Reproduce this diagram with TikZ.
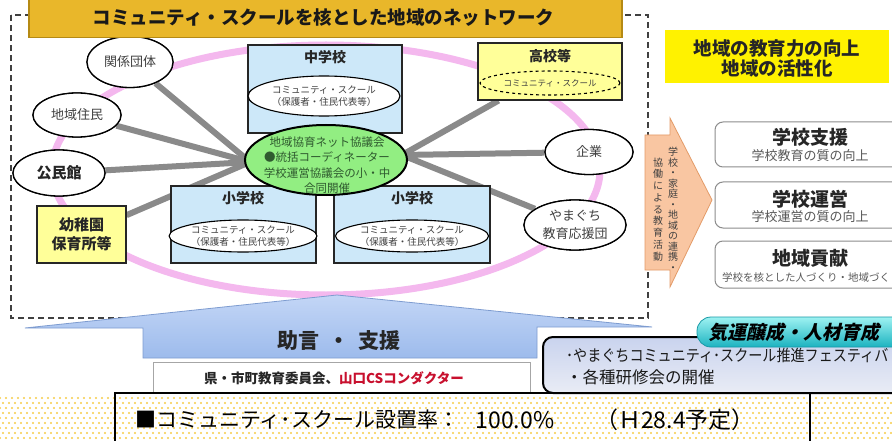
\documentclass[tikz,border=0pt]{standalone}
\usepackage{fontspec}
\setmainfont{Noto Sans CJK JP}
\newfontfamily\jpsl[FakeSlant=0.22]{Noto Sans CJK JP}
\usetikzlibrary{shapes.geometric}
\definecolor{gold}{HTML}{E9B72A}
\definecolor{golddark}{HTML}{B58A14}
\definecolor{pinkring}{HTML}{F4B8EE}
\definecolor{linegray}{HTML}{8A8A8A}
\definecolor{lblue}{HTML}{CDE8F9}
\definecolor{lyellow}{HTML}{FFFF99}
\definecolor{lgreen}{HTML}{92EE82}
\definecolor{greentxt}{HTML}{2F5A2F}
\definecolor{txtgray}{HTML}{404040}
\definecolor{boxgray}{HTML}{8C8C8C}
\definecolor{csred}{HTML}{C8102E}
\definecolor{dotc}{HTML}{F6CC48}
\definecolor{peach}{HTML}{F9C6A2}
\definecolor{peachdark}{HTML}{E39B68}
\definecolor{arrowtop}{HTML}{C3D6F6}
\definecolor{arrowbot}{HTML}{9DBBEC}
\definecolor{arrowline}{HTML}{7E9CD0}
\definecolor{festtop}{HTML}{C9D3EE}
\definecolor{festbot}{HTML}{E9ECF5}
\definecolor{pilltop}{HTML}{9EF2F2}
\definecolor{pillbot}{HTML}{1CB3C0}
\definecolor{pillline}{HTML}{1899A6}
\begin{document}
\begin{tikzpicture}[x=1pt,y=-1pt,
  conn/.style={draw=linegray, line width=6},
  oval/.style={ellipse, draw=black, line width=1.3, fill=white, inner sep=0, align=center, text=txtgray},
  schoolbox/.style={rectangle, draw=black!85, line width=1.1, fill=lblue, inner sep=0},
  ybox/.style={rectangle, draw=black!85, line width=1.1, fill=lyellow, inner sep=0, align=center},
  csell/.style={ellipse, draw=black, line width=1.1, fill=white, inner sep=0, align=center, text=txtgray, font=\fontsize{9.5}{12.5}\selectfont},
  heading/.style={font=\bfseries\fontsize{14}{14}\selectfont, text=black!85, inner sep=0},
  resbox/.style={rectangle, rounded corners=8, draw=boxgray, line width=1, fill=white, minimum width=200, inner sep=0},
  restitle/.style={font=\bfseries\fontsize{19}{19}\selectfont, text=black!85, inner sep=0},
  ressub/.style={font=\fontsize{13}{13}\selectfont, text=black!65, inner sep=0},
  vtext/.style={align=center, inner sep=0, text=txtgray, anchor=north},
  dashframe/.style={draw=black!75, line width=1.4, dash pattern=on 6pt off 4pt},
]
\useasboundingbox (0,0) rectangle (892,441);
\clip (0,0) rectangle (892,441);
\fill[white] (0,0) rectangle (892,441);

% dotted strip
\foreach \r in {0,...,8}{
  \pgfmathsetmacro{\off}{mod(\r,2)*3}
  \foreach \c in {0,...,149}{
    \fill[dotc] (\c*6+\off, 398+\r*5) circle[radius=1.15];
  }
}

% dashed frame and pink ring
\draw[dashframe] (11,15) rectangle (648,318);
\draw[pinkring, line width=7] (326,170) ellipse [x radius=274, y radius=125];

% hubs
\coordinate (hubL) at (250,162);
\coordinate (hubR) at (402,155);

% satellites
\node[oval, minimum width=86, minimum height=51, font=\fontsize{13}{13}\selectfont] (kankei) at (130,62) {関係団体};
\node[oval, minimum width=88, minimum height=44, font=\fontsize{13}{13}\selectfont] (juumin) at (77,115) {地域住民};
\node[oval, minimum width=92, minimum height=46, font=\bfseries\fontsize{15}{15}\selectfont, text=black!85] (kouminkan) at (59,173) {公民館};
\node[ybox, minimum width=89, minimum height=57, font=\bfseries\fontsize{15}{19}\selectfont, text=black!85] (youchien) at (81.5,234.5) {幼稚園\\保育所等};
\node[ybox, minimum width=144, minimum height=57] (koukou) at (550,71.5) {};
\node[oval, minimum width=88, minimum height=45, font=\fontsize{13}{13}\selectfont] (kigyou) at (589,152) {企業};
\node[oval, minimum width=102, minimum height=50, font=\fontsize{13}{18}\selectfont] (yamaguchi) at (575,225) {やまぐち\\教育応援団};

% connectors
\draw[conn] (hubL) -- (kankei);
\draw[conn] (hubL) -- (juumin);
\draw[conn] (hubL) -- (kouminkan);
\draw[conn] (hubL) -- (youchien);
\draw[conn] (hubR) -- (koukou);
\draw[conn] (hubR) -- (kigyou);
\draw[conn] (hubR) -- (yamaguchi);

% redraw satellites on top of connectors
\node[oval, minimum width=86, minimum height=51, font=\fontsize{13}{13}\selectfont] (kankeiT) at (kankei) {関係団体};
\node[oval, minimum width=88, minimum height=44, font=\fontsize{13}{13}\selectfont] (juuminT) at (juumin) {地域住民};
\node[oval, minimum width=92, minimum height=46, font=\bfseries\fontsize{15}{15}\selectfont, text=black!85] (kouminkanT) at (kouminkan) {公民館};
\node[ybox, minimum width=89, minimum height=57, font=\bfseries\fontsize{15}{19}\selectfont, text=black!85] (youchienT) at (youchien) {幼稚園\\保育所等};
\node[ybox, minimum width=144, minimum height=57] (koukouT) at (koukou) {};
\node[heading] (koukouH) at (550,56) {高校等};
\node[ellipse, draw=black, dashed, line width=1.1, fill=lyellow, inner sep=0, minimum width=140, minimum height=24, font=\fontsize{8.5}{8.5}\selectfont, text=txtgray] (koukouCS) at (550,83) {コミュニティ・スクール};
\node[oval, minimum width=88, minimum height=45, font=\fontsize{13}{13}\selectfont] (kigyouT) at (kigyou) {企業};
\node[oval, minimum width=102, minimum height=50, font=\fontsize{13}{18}\selectfont] (yamaguchiT) at (yamaguchi) {やまぐち\\教育応援団};

% schools
\node[schoolbox, minimum width=154, minimum height=88] (chu) at (325,89) {};
\node[heading] (chuH) at (325,57) {中学校};
\node[csell, minimum width=152, minimum height=40] (chuCS) at (324,96) {コミュニティ・スクール\\（保護者・住民代表等）};
\node[schoolbox, minimum width=145, minimum height=77] (shoL) at (243.5,224.5) {};
\node[heading] (shoLH) at (243,198) {小学校};
\node[csell, minimum width=144, minimum height=32] (shoLCS) at (243,236) {コミュニティ・スクール\\（保護者・住民代表等）};
\node[schoolbox, minimum width=156, minimum height=77] (shoR) at (412,224.5) {};
\node[heading] (shoRH) at (412,198) {小学校};
\node[csell, minimum width=153, minimum height=32] (shoRCS) at (412,236) {コミュニティ・スクール\\（保護者・住民代表等）};

% central council
\node[ellipse, draw=black, line width=2, fill=lgreen, minimum width=162, minimum height=70, inner sep=0] (hub) at (326,160) {};
\node[align=center, inner sep=0, text=greentxt, font=\fontsize{11.5}{15.3}\selectfont] (hubtxt) at (327,165) {地域協育ネット協議会\\●統括コーディネーター\\学校運営協議会の小・中\\合同開催};

% title
\node[rectangle, fill=gold, draw=golddark, line width=1.2, minimum width=593, minimum height=40, inner sep=0] (titlebox) at (325.5,17.5) {};
\node[inner sep=0, font=\bfseries\fontsize{18.5}{18.5}\selectfont, text=black!90] (title) at (323.5,18) {コミュニティ・スクールを核とした地域のネットワーク};

% right panel
\node[rectangle, fill=yellow, minimum width=224, minimum height=53, inner sep=0] (goalbox) at (777,56.5) {};
\node[align=center, inner sep=0, font=\bfseries\fontsize{18.5}{20}\selectfont, text=black!85] (goal) at (777,58) {地域の教育力の向上\\地域の活性化};

\node[resbox, minimum height=45] (r1) at (815,144.5) {};
\node[restitle] (r1t) at (810,137) {学校支援};
\node[ressub] (r1s) at (810,156) {学校教育の質の向上};
\node[resbox, minimum height=46] (r2) at (815,205) {};
\node[restitle] (r2t) at (810,199) {学校運営};
\node[ressub] (r2s) at (810,217) {学校運営の質の向上};
\node[resbox, minimum height=47] (r3) at (815,264.5) {};
\node[restitle] (r3t) at (810,258) {地域貢献};
\node[ressub, font=\fontsize{10.5}{10.5}\selectfont, anchor=west] (r3s) at (722,277) {学校を核とした人づくり・地域づく};

% orange arrow
\draw[fill=peach, draw=peachdark, line width=0.8] (645,135) -- (670,135) -- (670,118) -- (712,200) -- (670,287) -- (670,270) -- (645,270) -- cycle;
\node[vtext, font=\fontsize{10}{10.5}\selectfont] (vt1) at (673,147) {学\\校\\・\\家\\庭\\・\\地\\域\\の\\連\\携\\・};
\node[vtext, font=\fontsize{10}{11.75}\selectfont] (vt2) at (658,157.5) {協\\働\\に\\よ\\る\\教\\育\\活\\動};

% big blue arrow
\draw[top color=arrowtop, bottom color=arrowbot, draw=arrowline, line width=0.8]
  (25,328) -- (337,295) -- (652,327) -- (537,327) -- (537,358) -- (143,358) -- (143,328) -- cycle;
\node[inner sep=0, font=\bfseries\fontsize{21}{21}\selectfont, text=black!85] (advice) at (339,341) {助言\hspace{9pt}・\hspace{9pt}支援};

\node[rectangle, fill=white, draw=black!35, line width=1, minimum width=377, minimum height=30, inner sep=0] (boe) at (341.5,377) {};
\node[inner sep=0, font=\bfseries\fontsize{13.5}{13.5}\selectfont, text=black!85] (boetxt) at (334,378) {県・市町教育委員会、\textcolor{csred}{山口CSコンダクター}};

% festival box
\draw[rounded corners=10, line width=2, draw=black, top color=festtop, bottom color=festbot] (543,337) rectangle (930,393);
\node[anchor=west, inner sep=0, xscale=0.88, font=\fontsize{16}{16}\selectfont, text=black!90] (fest1) at (566,355) {･やまぐちコミュニティ･スクール推進フェスティバ};
\node[anchor=west, inner sep=0, font=\fontsize{16.5}{16.5}\selectfont, text=black!90] (fest2) at (566,377) {・各種研修会の開催};

% pill
\draw[rounded corners=14, top color=pilltop, bottom color=pillbot, draw=pillline, line width=0.8] (697,317) rectangle (930,347);
\node[anchor=west, inner sep=0, font=\jpsl\bfseries\fontsize{19}{19}\selectfont] (pill) at (708,332) {気運醸成・人材育成};

% bottom box
\draw[line width=2, draw=black] (115,393) rectangle (810,450);
\node[anchor=west, inner sep=0, font=\fontsize{21}{21}\selectfont] (rate1) at (135,420) {■コミュニティ･スクール設置率：};
\node[inner sep=0, font=\fontsize{23}{23}\selectfont] (rate2) at (515,420) {100.0\%};
\node[anchor=west, inner sep=0, font=\fontsize{23}{23}\selectfont] (rate3) at (595,420) {（Ｈ28.4予定）};
\end{tikzpicture}
\end{document}
